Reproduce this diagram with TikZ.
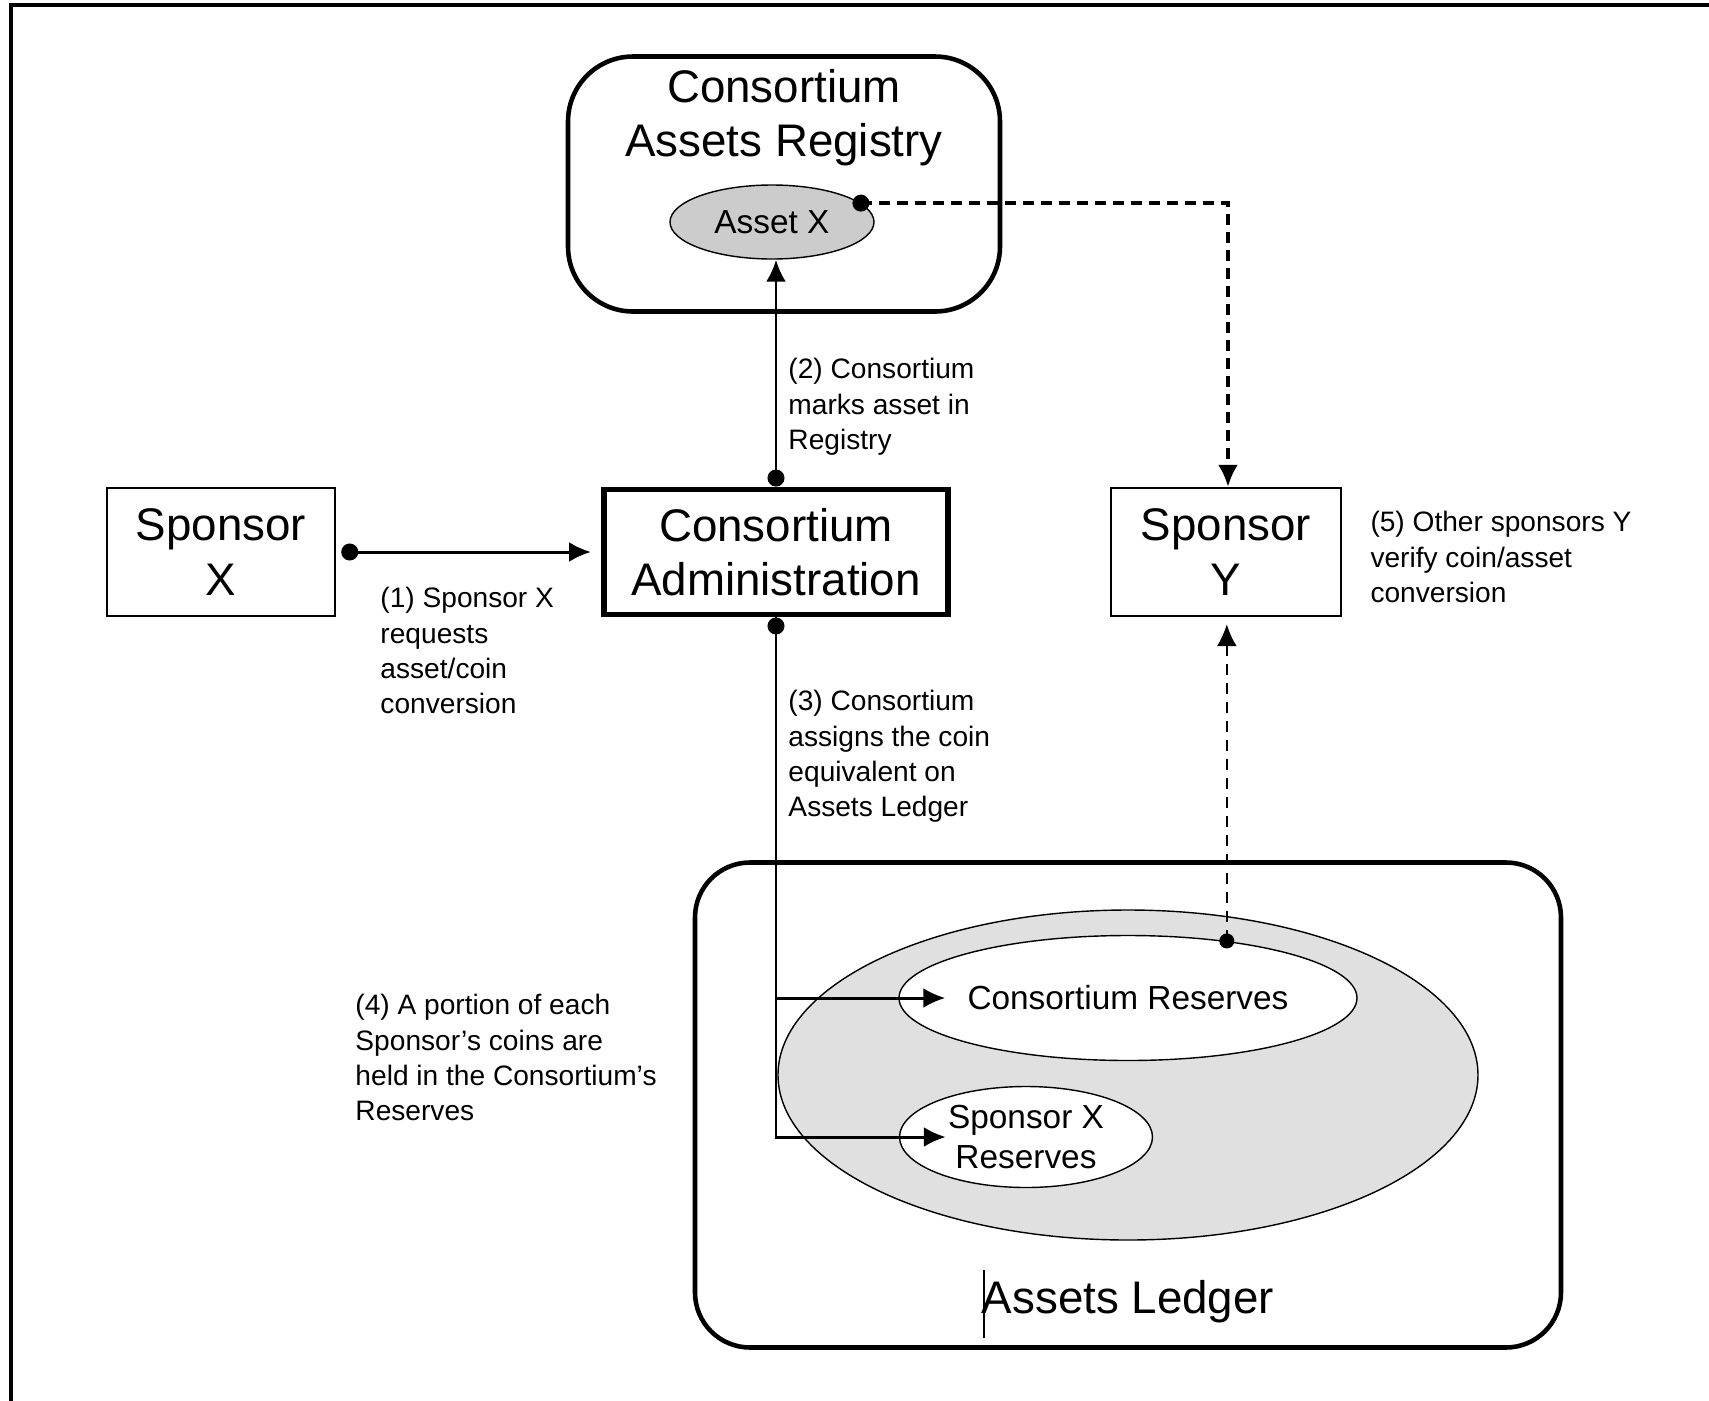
\documentclass[tikz,border=0pt]{standalone}
\usepackage{fontspec}
\setmainfont{Liberation Sans}
\usetikzlibrary{arrows.meta,shapes.geometric}

\begin{document}
\begin{tikzpicture}[x=0.1mm,y=-0.1mm,
    >={Latex[length=2.2mm,width=2mm]},
    line width=0.85pt,
    dotarrow/.style={{Circle[length=1.7mm]}->},
    big/.style={font=\fontsize{13}{15.4}\selectfont, align=center},
    small/.style={font=\fontsize{9.5}{11.4}\selectfont, align=center},
    box/.style={draw, line width=0.7pt, inner sep=0pt, big},
    oval/.style={ellipse, draw, line width=0.4pt, inner sep=0pt, small},
    note/.style={font=\fontsize{8}{10}\selectfont, align=left, anchor=north west, inner sep=0pt},
    bigdash/.style={line width=1pt, dash pattern=on 1.1mm off 0.7mm},
    smalldash/.style={line width=0.5pt, dash pattern=on 1.1mm off 0.8mm}]
      \useasboundingbox (0,0) rectangle (1709,1401);
      \draw [line width=1.1pt] (11,1401) -- (11,5) -- (1709,5);
      % registry
      \node [draw, line width=1.3pt, rounded corners=6.5mm, minimum width=43.2mm, minimum height=25.5mm] (reg) at (784,184) {};
      \node [big] (regt) at (784,118) {Consortium\\Assets Registry};
      \node [oval, fill=black!20, minimum width=20.4mm, minimum height=7.4mm] (ax) at (772,222) {Asset X};
      % sponsors and administration
      \node [box, minimum width=22.8mm, minimum height=12.8mm] (sx) at (221,552) {Sponsor\\X};
      \node [box, line width=1.7pt, minimum width=34.4mm, minimum height=12.5mm] (ca) at (776,552) {Consortium\\Administration};
      \node [box, minimum width=23mm, minimum height=12.8mm] (sy) at (1226,552) {Sponsor\\Y};
      % ledger
      \node [draw, line width=1.3pt, rounded corners=5.5mm, minimum width=86.6mm, minimum height=48.5mm] (al) at (1128,1105) {};
      \node [oval, fill=black!12, minimum width=70mm, minimum height=33mm] (pool) at (1128,1075) {};
      \node [oval, fill=white, minimum width=45.8mm, minimum height=12.5mm] (cr) at (1128,998) {Consortium Reserves};
      \node [oval, fill=white, minimum width=25.3mm, minimum height=10.1mm] (sxr) at (1026,1137) {Sponsor X\\Reserves};
      \node [big] (alt) at (1128,1302) {Assets Ledger};
      \draw [line width=0.3pt] (984,1270) -- (984,1338);
      \coordinate (crin) at ([xshift=4.7mm]cr.west);
      \coordinate (sxin) at ([xshift=4.7mm]sxr.west);
      % steps
      \node [note] (n1) at (379,586) {(1) Sponsor X\\requests\\asset/coin\\conversion};
      \node [note] (n2) at (787,357) {(2) Consortium\\marks asset in\\Registry};
      \node [note] (n3) at (787,689) {(3) Consortium\\assigns the coin\\equivalent on\\Assets Ledger};
      \node [note] (n4) at (354,993) {(4) A portion of each\\Sponsor’s coins are\\held in the Consortium’s\\Reserves};
      \node [note] (n5) at (1369,510) {(5) Other sponsors Y\\verify coin/asset\\conversion};
      \draw [dotarrow, shorten <=0.5mm, shorten >=1mm] (sx.east) -- (ca.west);
      \draw [dotarrow] (ca.north) -- (ca.north |- ax.south);
      \draw [dotarrow] (ca.south) |- (crin);
      \draw [->] (ca.south) |- (sxin);
      \draw [bigdash, ->] (ax.12) -| ([xshift=0.2mm]sy.north);
      \fill (ax.12) circle [radius=8.5];
      \draw [smalldash, ->, shorten >=0.7mm] (cr.30) -- (cr.30 |- sy.south);
      \fill (cr.30) circle [radius=7.5];
    \end{tikzpicture}
\end{document}
